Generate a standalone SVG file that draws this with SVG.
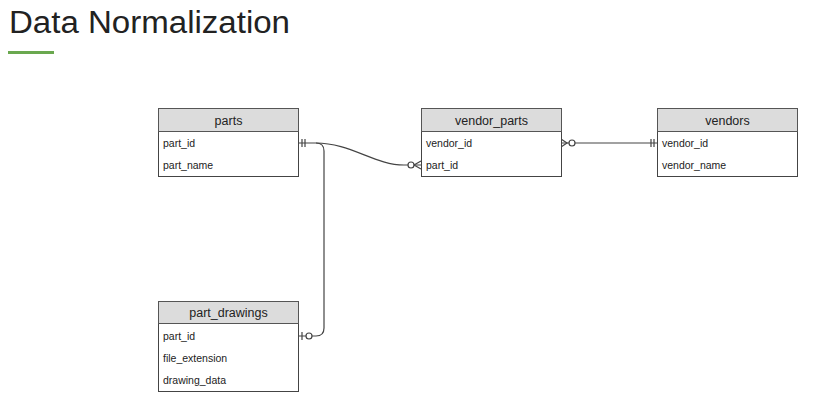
<svg xmlns="http://www.w3.org/2000/svg" width="822" height="414" viewBox="0 0 822 414">
<style>
.t{font-family:"Liberation Sans",Arial,sans-serif;fill:#222}
.title{font-size:31px;fill:#222}
.hd{fill:#dcdcdc;stroke:#555;stroke-width:1}
.bd{fill:#fff;stroke:#444;stroke-width:1}
.h{font-size:12.5px;text-anchor:middle}
.r{font-size:10.5px}
.c{fill:none;stroke:#444;stroke-width:1.2}
.o{fill:#fff;stroke:#444;stroke-width:1.2}
</style>
<rect width="822" height="414" fill="#fff"/>
<text class="t title" x="9" y="33" textLength="281" lengthAdjust="spacingAndGlyphs">Data Normalization</text>
<rect x="8" y="51" width="46" height="3" fill="#6aa84f"/>

<g id="connectors">
  <path class="c" d="M299,143 L316,143 C350,143 375,165 404,165 L421,165"/>
  <path class="c" d="M316,143 Q324,143 324,151 L324,328 Q324,336 316,336 L299,336"/>
  <path class="c" d="M302,139 V147 M305,139 V147"/>
  <path class="c" d="M421,161 L414,165 L421,169"/>
  <circle class="o" cx="411" cy="165" r="3"/>
  <path class="c" d="M302,332 V340"/>
  <circle class="o" cx="309" cy="336" r="3"/>
  <path class="c" d="M561,143 L657,143"/>
  <path class="c" d="M561,139 L567,143 L561,147"/>
  <circle class="o" cx="572" cy="143" r="3"/>
  <path class="c" d="M651,139 V147 M654,139 V147"/>
</g>

<g id="parts">
  <rect class="bd" x="158.5" y="108.5" width="140" height="68"/>
  <rect class="hd" x="158.5" y="108.5" width="140" height="23"/>
  <text class="t h" x="228.5" y="124.5">parts</text>
  <text class="t r" x="163" y="147">part_id</text>
  <text class="t r" x="163" y="169">part_name</text>
</g>

<g id="vendor_parts">
  <rect class="bd" x="421.5" y="108.5" width="140" height="68"/>
  <rect class="hd" x="421.5" y="108.5" width="140" height="23"/>
  <text class="t h" x="491.5" y="124.5">vendor_parts</text>
  <text class="t r" x="426" y="147">vendor_id</text>
  <text class="t r" x="426" y="169">part_id</text>
</g>

<g id="vendors">
  <rect class="bd" x="657.5" y="108.5" width="140" height="68"/>
  <rect class="hd" x="657.5" y="108.5" width="140" height="23"/>
  <text class="t h" x="727.5" y="124.5">vendors</text>
  <text class="t r" x="662" y="147">vendor_id</text>
  <text class="t r" x="662" y="169">vendor_name</text>
</g>

<g id="part_drawings">
  <rect class="bd" x="158.5" y="301.5" width="140" height="90"/>
  <rect class="hd" x="158.5" y="301.5" width="140" height="22"/>
  <text class="t h" x="228.5" y="317">part_drawings</text>
  <text class="t r" x="163" y="340">part_id</text>
  <text class="t r" x="163" y="362">file_extension</text>
  <text class="t r" x="163" y="384">drawing_data</text>
</g>
</svg>
